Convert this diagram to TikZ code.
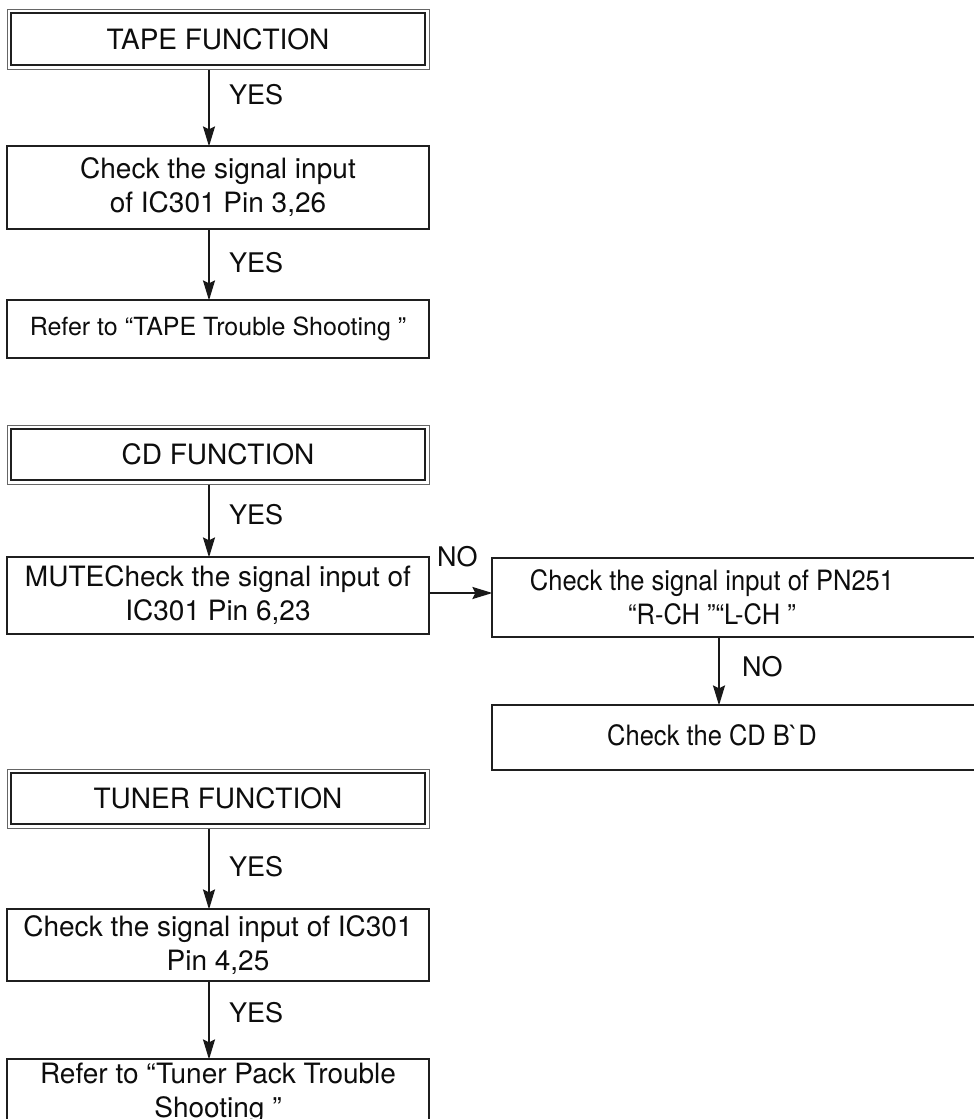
\documentclass[tikz,border=0pt]{standalone}
\usepackage{fontspec}
\setmainfont{TeX Gyre Heros}[Ligatures=TeXOff]
\newfontfamily\narrowfont{TeX Gyre Heros}[Ligatures=TeXOff,FakeStretch=0.91]
\usetikzlibrary{arrows.meta}
\begin{document}
\begin{tikzpicture}[x=1pt,y=-1pt,
  every node/.style={font=\fontsize{28}{34}\selectfont, align=center, inner sep=0pt, text=black!95},
  box/.style={draw=black!88, line width=2.2pt, minimum width=422pt},
  dbox/.style={draw=black!60, line width=1pt, minimum width=422pt},
  inner/.style={draw=black!88, line width=2.6pt},
  arr/.style={draw=black!90, line width=2pt, shorten >=-1.5pt, -{Stealth[length=20pt,width=12pt,inset=3pt]}},
  lab/.style={anchor=west, font=\fontsize{27}{32}\selectfont},
  narrow/.style={font=\narrowfont\fontsize{28}{34}\selectfont}
]
\clip (0,0) rectangle (974,1119);
\fill[white] (0,0) rectangle (974,1119);
\coordinate (ax) at (209,0);
\coordinate (bx) at (719,0);
\coordinate (hy) at (0,593);

% TAPE section
\node[dbox, minimum height=60pt] (tape) at (218,39) {TAPE FUNCTION};
\draw[inner] ([shift={(4.5pt,-4.5pt)}]tape.north west) rectangle ([shift={(-4.5pt,4.5pt)}]tape.south east);
\node[box, minimum height=83pt] (t2) at (218,187.5) {Check the signal input\\of IC301 Pin 3,26};
\node[box, minimum height=58pt, font=\fontsize{25}{30}\selectfont] (t3) at (218,329) {Refer to “TAPE Trouble Shooting ”};
\draw[arr] (tape.south -| ax) -- (t2.north -| ax);
\draw[arr] (t2.south -| ax) -- (t3.north -| ax);
\node[lab] (y1) at (229,95) {YES};
\node[lab] (y2) at (229,263) {YES};

% CD section
\node[dbox, minimum height=59pt] (cd) at (218,454.5) {CD FUNCTION};
\draw[inner] ([shift={(4.5pt,-4.5pt)}]cd.north west) rectangle ([shift={(-4.5pt,4.5pt)}]cd.south east);
\node[box, minimum height=77pt] (mute) at (218,595.5) {MUTECheck the signal input of\\IC301 Pin 6,23};
\draw[arr] (cd.south -| ax) -- (mute.north -| ax);
\node[lab] (y3) at (229,515) {YES};

\node[box, minimum width=508pt, minimum height=79pt] (r1) at (746,597.5) {};
\node[narrow] (r1t) at (712,597.5) {Check the signal input of PN251\\“R-CH ”“L-CH ”};
\node[box, minimum width=508pt, minimum height=65pt] (r2) at (746,737.5) {};
\node[narrow] (r2t) at (712,735) {Check the CD B`D};
\draw[arr] (mute.east |- hy) -- (r1.west |- hy);
\draw[arr] (r1.south -| bx) -- (r2.north -| bx);
\node[lab] (n1) at (437,557) {NO};
\node[lab] (n2) at (742,667) {NO};

% TUNER section
\node[dbox, minimum height=59pt] (tun) at (218,798.5) {TUNER FUNCTION};
\draw[inner] ([shift={(4.5pt,-4.5pt)}]tun.north west) rectangle ([shift={(-4.5pt,4.5pt)}]tun.south east);
\node[box, minimum height=72pt] (u2) at (218,945) {Check the signal input of IC301\\Pin 4,25};
\node[box, minimum height=68pt] (u3) at (218,1093) {Refer to “Tuner Pack Trouble\\Shooting ”};
\draw[arr] (tun.south -| ax) -- (u2.north -| ax);
\draw[arr] (u2.south -| ax) -- (u3.north -| ax);
\node[lab] (y4) at (229,867) {YES};
\node[lab] (y5) at (229,1013) {YES};
\end{tikzpicture}
\end{document}
